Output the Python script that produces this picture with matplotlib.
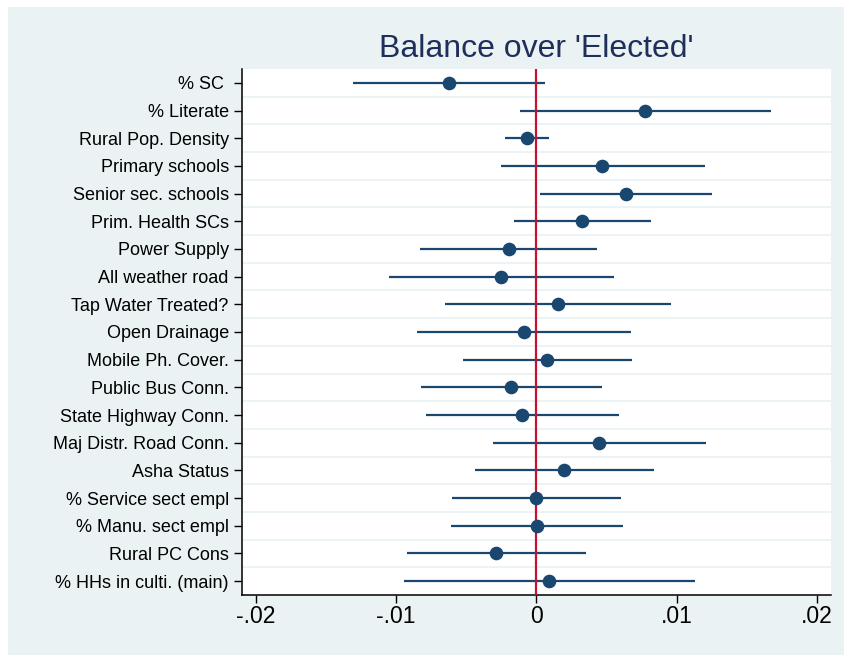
import matplotlib
matplotlib.use("Agg")
import matplotlib.pyplot as plt
from matplotlib.patches import Rectangle
import numpy as np

labels = ["% SC ", "% Literate", "Rural Pop. Density", "Primary schools",
          "Senior sec. schools", "Prim. Health SCs", "Power Supply",
          "All weather road", "Tap Water Treated?", "Open Drainage",
          "Mobile Ph. Cover.", "Public Bus Conn.", "State Highway Conn.",
          "Maj Distr. Road Conn.", "Asha Status", "% Service sect empl",
          "% Manu. sect empl", "Rural PC Cons", "% HHs in culti. (main)"]
estimate = [-0.00624, 0.00776, -0.00064, 0.00471, 0.00636, 0.00326, -0.00198,
            -0.00250, 0.00155, -0.00088, 0.00079, -0.00179, -0.00100, 0.00445,
            0.00200, 0.00000, 0.00002, -0.00286, 0.00090]
ci_low = [-0.01305, -0.00119, -0.00221, -0.00255, 0.00024, -0.00160, -0.00826,
          -0.01048, -0.00650, -0.00848, -0.00524, -0.00819, -0.00783, -0.00312,
          -0.00440, -0.00602, -0.00610, -0.00924, -0.00945]
ci_high = [0.00062, 0.01671, 0.00090, 0.01200, 0.01248, 0.00814, 0.00433,
           0.00550, 0.00962, 0.00676, 0.00681, 0.00467, 0.00588, 0.01207,
           0.00838, 0.00605, 0.00614, 0.00355, 0.01131]
xticks = [-0.02, -0.01, 0, 0.01, 0.02]
xticklabels = ["-.02", "-.01", "0", ".01", ".02"]
title = "Balance over 'Elected'"

plt.rcParams['font.family'] = ['Liberation Sans', 'DejaVu Sans']

W, H = 844, 655
fig = plt.figure(figsize=(W / 100, H / 100), dpi=100)
fig.patch.set_facecolor("white")
bg = Rectangle((8 / W, 0), 1 - 8 / W, 1 - 7 / H,
               transform=fig.transFigure, facecolor="#EAF2F3",
               edgecolor="none", zorder=-10)
fig.add_artist(bg)

ax = fig.add_axes([242 / W, 1 - 595 / H, (831 - 242) / W, (595 - 69) / H])
ax.set_zorder(1)
ax.set_facecolor("white")

navy = "#1A476F"
n = len(labels)
y = np.arange(n)

# gridlines between rows
for g in np.arange(0.5, n - 0.5, 1.0):
    ax.axhline(g, color="#EAF2F3", lw=1.3, zorder=1)

ax.hlines(y, ci_low, ci_high, color=navy, lw=1.6, zorder=3)
ax.axvline(0, color="#C41230", lw=1.6, zorder=4)
ax.plot(estimate, y, "o", color=navy, ms=8.8, zorder=5, mec=navy)

ax.set_ylim(n - 0.5, -0.5)
ax.set_xlim(-0.02097, 0.02099)
ax.set_yticks(y)
ax.set_yticklabels(labels, fontsize=13)
ax.set_xticks(xticks)
ax.set_xticklabels(xticklabels, fontsize=16.5)

for s in ["top", "right"]:
    ax.spines[s].set_visible(False)
for s in ["left", "bottom"]:
    ax.spines[s].set_color("black")
    ax.spines[s].set_linewidth(1.1)
ax.tick_params(axis="y", length=6, width=1.0, pad=3.5, colors="black")
ax.tick_params(axis="x", length=6, width=1.0, pad=1, colors="black")

fig.text(536 / W, 1 - 57 / H, title, fontsize=23, color="#1E2F5A",
         ha="center", va="baseline")

fig.savefig("out.png", dpi=100)
